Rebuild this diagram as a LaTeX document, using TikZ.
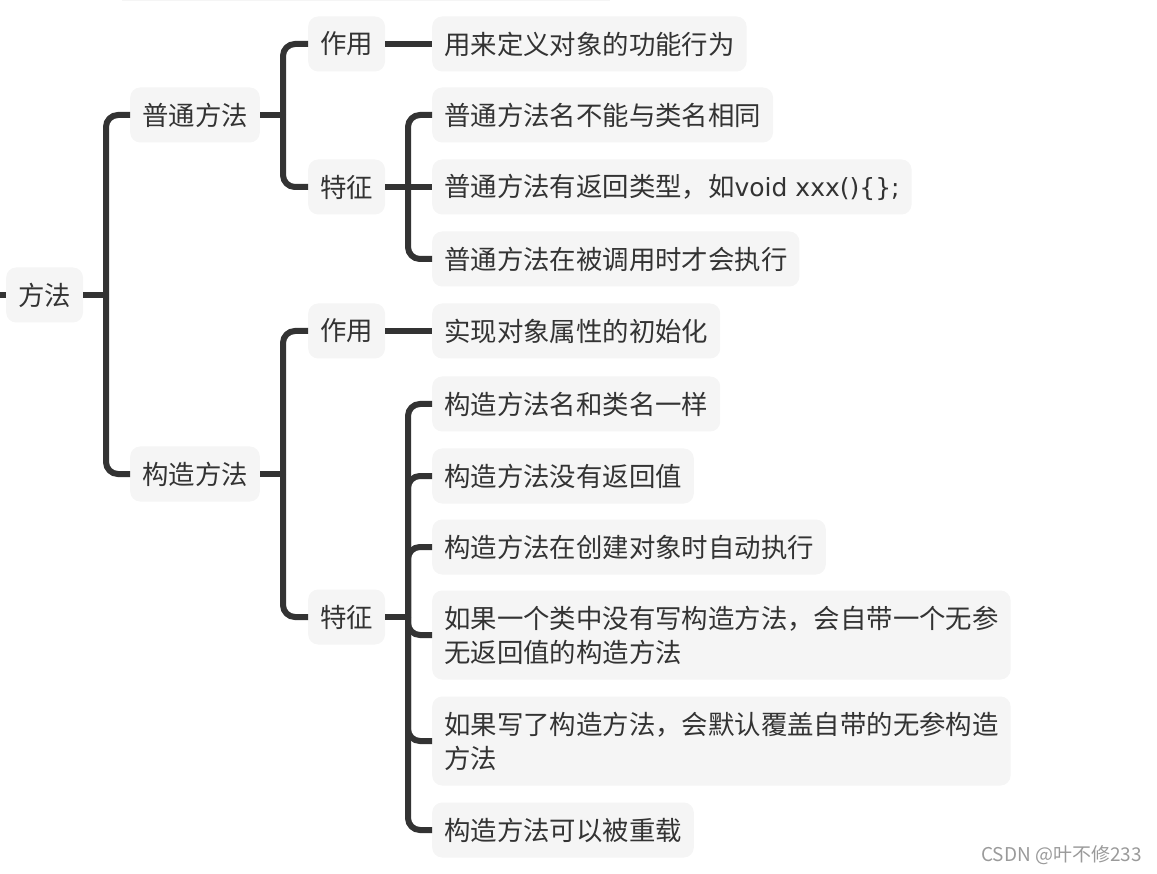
\documentclass[tikz,border=0pt]{standalone}
\usepackage{fontspec}
\setmainfont{Noto Sans CJK SC}
\newfontfamily\latinfont{DejaVu Sans}
\definecolor{boxfill}{HTML}{F5F5F5}
\definecolor{ink}{HTML}{333333}
\definecolor{wm}{HTML}{9A9A9A}
\tikzset{
  topic/.style={fill=boxfill, rounded corners=10pt, anchor=west, inner xsep=12pt, inner ysep=0pt,
    minimum height=55pt, text=ink, font=\fontsize{26.4}{34}\selectfont, align=left},
  twoline/.style={topic, minimum height=89pt},
  conn/.style={draw=ink, line width=6pt, rounded corners=12pt}
}
\begin{document}
\begin{tikzpicture}[x=1pt,y=-1pt]
\useasboundingbox (0,0) rectangle (1157,874);
% faint cropped box at the top
\fill[boxfill] (122,0) rectangle (610,1.5);

% nodes
\node[topic] (root) at (6,295) {方法};
\node[topic] (pt) at (130,115) {普通方法};
\node[topic] (gz) at (130,474) {构造方法};

\node[topic] (ptzy) at (308,44) {作用};
\node[topic] (pttz) at (308,187) {特征};
\node[topic] (gzzy) at (308,331) {作用};
\node[topic] (gztz) at (308,617) {特征};

\node[topic] (a1) at (432,44) {用来定义对象的功能行为};
\node[topic] (b1) at (432,115) {普通方法名不能与类名相同};
\node[topic] (b2) at (432,187) {普通方法有返回类型，如{\latinfont\fontsize{25}{34}\selectfont void xxx()\{\};}};
\node[topic] (b3) at (432,259) {普通方法在被调用时才会执行};
\node[topic] (c1) at (432,331) {实现对象属性的初始化};
\node[topic] (d1) at (432,404) {构造方法名和类名一样};
\node[topic] (d2) at (432,476) {构造方法没有返回值};
\node[topic] (d3) at (432,547) {构造方法在创建对象时自动执行};
\node[twoline] (d4) at (432,635) {如果一个类中没有写构造方法，会自带一个无参\\无返回值的构造方法};
\node[twoline] (d5) at (432,741) {如果写了构造方法，会默认覆盖自带的无参构造\\方法};
\node[topic] (d6) at (432,830) {构造方法可以被重载};

\coordinate (stub) at (0,295);
\node[text=wm, font=\fontsize{19}{22}\selectfont, anchor=east, inner sep=0pt] (wmk) at (1142,855) {CSDN @叶不修233};

% connectors
\draw[conn] (stub) -- (root.west);
\draw[conn] (root.east) -- (106,295);
\draw[conn] (106,295) |- (pt.west);
\draw[conn] (106,295) |- (gz.west);

\draw[conn] (pt.east) -- (283,115);
\draw[conn] (283,115) |- (ptzy.west);
\draw[conn] (283,115) |- (pttz.west);
\draw[conn] (gz.east) -- (283,474);
\draw[conn] (283,474) |- (gzzy.west);
\draw[conn] (283,474) |- (gztz.west);

\draw[conn] (ptzy.east) -- (a1.west);
\draw[conn] (gzzy.east) -- (c1.west);

\draw[conn] (pttz.east) -- (408,187);
\draw[conn] (408,187) |- (b1.west);
\draw[conn] (408,187) -- (b2.west);
\draw[conn] (408,187) |- (b3.west);

\draw[conn] (gztz.east) -- (408,617);
\draw[conn] (408,617) |- (d1.west);
\draw[conn] (408,617) |- (d2.west);
\draw[conn] (408,617) |- (d3.west);
\draw[conn] (408,617) |- (d4.west);
\draw[conn] (408,617) |- (d5.west);
\draw[conn] (408,617) |- (d6.west);
\end{tikzpicture}
\end{document}
